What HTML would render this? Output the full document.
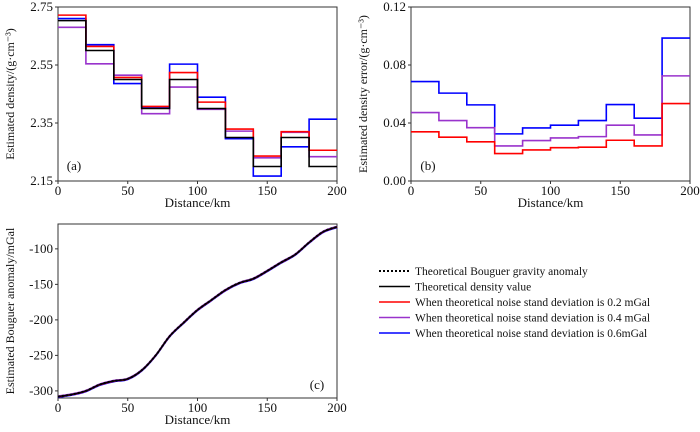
<!DOCTYPE html>
<html><head><meta charset="utf-8"><style>
html,body{margin:0;padding:0;background:#fff;}
svg{display:block;}
text{font-family:"Liberation Serif","Times New Roman",serif;}
</style></head><body>
<svg id="c" width="700" height="432" viewBox="0 0 700 432" font-family="Liberation Serif, serif"></svg>
<script>
const xTicks=[0,50,100,150,200];
const segStarts=[0,20,40,60,80,100,120,140,160,180];
const densBlack=[2.703,2.60,2.50,2.40,2.50,2.40,2.30,2.20,2.30,2.20];
const densRed=[2.722,2.614,2.507,2.407,2.524,2.422,2.329,2.236,2.32,2.256];
const densPurple=[2.68,2.554,2.515,2.382,2.474,2.397,2.322,2.23,2.318,2.234];
const densBlue=[2.71,2.62,2.486,2.405,2.553,2.439,2.296,2.167,2.268,2.363];
const densTicks=[2.15,2.35,2.55,2.75];
const errBlue=[0.0686,0.0606,0.0525,0.0325,0.0366,0.0385,0.0417,0.0527,0.0433,0.0986];
const errPurple=[0.0472,0.0417,0.0368,0.0242,0.0279,0.0297,0.0306,0.0385,0.0318,0.0725];
const errRed=[0.0339,0.0302,0.027,0.0189,0.0214,0.023,0.0233,0.0281,0.0242,0.0534];
const errTicks=[0.00,0.04,0.08,0.12];
const gravX=[0,10,20,30,40,50,60,70,80,90,100,110,120,130,140,150,160,170,180,190,200];
const gravY=[-308,-305,-300,-291,-286,-283,-271,-250,-223,-204,-186,-172,-158,-148,-142,-131,-119,-108,-91,-76,-69];
const gravTicks=[-300,-250,-200,-150,-100];

const svg=document.getElementById('c');
const NS='http://www.w3.org/2000/svg';
function mk(tag,attrs,parent){const e=document.createElementNS(NS,tag);for(const k in attrs)e.setAttribute(k,attrs[k]);(parent||svg).appendChild(e);return e;}
function txt(s,x,y,size,anchor,parent,rot){const t=mk('text',{x:x,y:y,'font-size':size,'text-anchor':anchor||'middle',fill:'#111','font-family':'Liberation Serif, serif'},parent);if(rot)t.setAttribute('transform','rotate(-90 '+x+' '+y+')');t.textContent=s;return t;}

function panel(name,L,R,T,B,xmin,xmax,ymin,ymax,yTicks,fmt,ytitle,ytx){
  const g=mk('g',{});
  
  
  const sx=v=>L+(v-xmin)/(xmax-xmin)*(R-L);
  const sy=v=>B-(v-ymin)/(ymax-ymin)*(B-T);
  const fr=mk('rect',{x:L,y:T,width:R-L,height:B-T,fill:'none',stroke:'#333','stroke-width':1},g);
  
  
  const xa=mk('g',{},g);
  
  
  xTicks.forEach(v=>{mk('line',{x1:sx(v),x2:sx(v),y1:B,y2:B+3,stroke:'#333'},xa);txt(String(v),sx(v),B+14,13,'middle',xa);});
  const xt=txt('Distance/km',(L+R)/2,B+26,13,'middle',g);
  
  
  const ya=mk('g',{},g);
  
  
  yTicks.forEach(v=>{mk('line',{x1:L-3,x2:L,y1:sy(v),y2:sy(v),stroke:'#333'},ya);txt(fmt(v),L-5,sy(v)+4,13,'end',ya);});
  const yt=txt(ytitle,ytx,(T+B)/2,12,'middle',g,true);
  
  
  return {g,sx,sy};
}
function steps(p,vals,color,nm){
  let d='';
  segStarts.forEach((x0,i)=>{const x1=x0+20;const y=p.sy(vals[i]);d+=(i===0?'M':'L')+p.sx(x0)+','+y+'L'+p.sx(x1)+','+y;});
  const e=mk('path',{d:d,fill:'none',stroke:color,'stroke-width':1.6},p.g);
  
  
}
const pa=panel('panel-a',58,337,7,181,0,200,2.15,2.75,densTicks,v=>v.toFixed(2),'Estimated density/(g·cm⁻³)',14);
steps(pa,densBlue,'#0000ff','density-noise-0.6');
steps(pa,densPurple,'#9933cc','density-noise-0.4');
steps(pa,densRed,'#ff0000','density-noise-0.2');
steps(pa,densBlack,'#000','density-theoretical');
const la=txt('(a)',74,170,13,'middle',pa.g);

const pb=panel('panel-b',411,690,7,181,0,200,0,0.12,errTicks,v=>v.toFixed(2),'Estimated density error/(g·cm⁻³)',367);
steps(pb,errBlue,'#0000ff','error-noise-0.6');
steps(pb,errPurple,'#9933cc','error-noise-0.4');
steps(pb,errRed,'#ff0000','error-noise-0.2');
const lb=txt('(b)',428,170,13,'middle',pb.g);

const pc=panel('panel-c',58,337,224,398,0,200,-310,-65,gravTicks,v=>String(v),'Estimated Bouguer anomaly/mGal',14);
function curve(p,xs,ys,off){
  const P=xs.map((x,i)=>[p.sx(x),p.sy(ys[i])+off]);
  let d='M'+P[0][0]+','+P[0][1];
  for(let i=0;i<P.length-1;i++){const p0=P[Math.max(0,i-1)],p1=P[i],p2=P[i+1],p3=P[Math.min(P.length-1,i+2)];
    d+='C'+(p1[0]+(p2[0]-p0[0])/6)+','+(p1[1]+(p2[1]-p0[1])/6)+' '+(p2[0]-(p3[0]-p1[0])/6)+','+(p2[1]-(p3[1]-p1[1])/6)+' '+p2[0]+','+p2[1];}
  return d;
}
[['#0000ff',0.8,'gravity-noise-0.6'],['#9933cc',-0.6,'gravity-noise-0.4'],['#ff0000',0.3,'gravity-noise-0.2'],['#000',0,'gravity-theoretical-density']].forEach(s=>{
  const e=mk('path',{d:curve(pc,gravX,gravY,s[1]),fill:'none',stroke:s[0],'stroke-width':1.4},pc.g);
  
  
});
const dot=mk('path',{d:curve(pc,gravX,gravY,0),fill:'none',stroke:'#000','stroke-width':2,'stroke-dasharray':'2,2'},pc.g);


const lc=txt('(c)',317,389,13,'middle',pc.g);

const leg=mk('g',{});


const legItems=[['#000','2,2','Theoretical Bouguer gravity anomaly',2],['#000','','Theoretical density value',1.4],['#ff0000','','When theoretical noise stand deviation is 0.2 mGal',1.4],['#9933cc','','When theoretical noise stand deviation is 0.4 mGal',1.4],['#0000ff','','When theoretical noise stand deviation is 0.6mGal',1.4]];
legItems.forEach((it,i)=>{const y=271+i*15.5;const e=mk('g',{},leg);
  
  
  const l=mk('line',{x1:379,x2:410,y1:y,y2:y,stroke:it[0],'stroke-width':it[3]},e);if(it[1])l.setAttribute('stroke-dasharray',it[1]);
  txt(it[2],415,y+4,11.5,'start',e);});
</script>
</body></html>
